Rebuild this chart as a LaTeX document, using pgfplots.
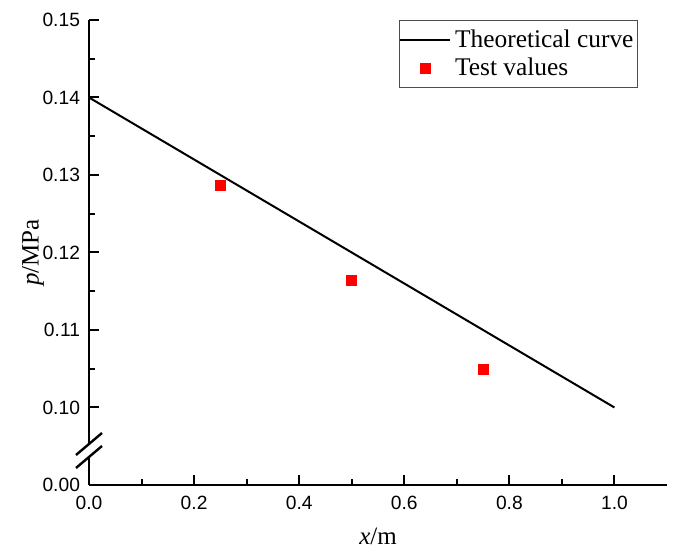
\documentclass[border=0pt]{standalone}
\usepackage{fontspec}
\setmainfont{Liberation Sans}
\newfontfamily\timesfont{Liberation Serif}
\usepackage{pgfplots}
\pgfplotsset{compat=1.18}
\usetikzlibrary{calc}
\pgfplotsset{
  linelegend/.style={legend image code/.code={\draw[##1] (0pt,0pt) -- (25pt,0pt);}},
  marklegend/.style={legend image code/.code={\draw[##1] plot coordinates {(12.5pt,0pt)};}},
}
\begin{document}
\begin{tikzpicture}
\path[use as bounding box] (-44.5pt,-32.5pt) rectangle (293pt,242.5pt);
\begin{axis}[
  at={(0,0)}, anchor=south west,
  scale only axis, width=289pt, height=232.5pt,
  xmin=0, xmax=1.1, ymin=0.09, ymax=0.15,
  axis lines*=left,
  axis line style={line width=1pt},
  tick align=inside,
  major tick length=5pt, minor tick length=3pt,
  every tick/.style={black, line width=1pt},
  xtick={0,0.2,0.4,0.6,0.8,1.0},
  xticklabels={0.0,0.2,0.4,0.6,0.8,1.0},
  minor xtick={0.1,0.3,0.5,0.7,0.9},
  ytick={0.09,0.10,0.11,0.12,0.13,0.14,0.15},
  yticklabels={0.00,0.10,0.11,0.12,0.13,0.14,0.15},
  minor ytick={0.105,0.115,0.125,0.135,0.145},
  /pgf/number format/assume math mode=true,
  tick label style={font=\fontsize{9.6}{11}\selectfont},
  xticklabel style={yshift=-2pt},
  yticklabel style={xshift=-1pt},
  xlabel={\timesfont\textit{x}/m},
  ylabel={\timesfont\textit{p}/MPa},
  label style={font=\fontsize{12.5}{15}\selectfont},
  x label style={at={(axis description cs:0.5,-0.110)}, anchor=center},
  y label style={at={(axis description cs:-0.0969,0.5)}, anchor=center},
  legend style={at={(0.95,1)}, anchor=north east, draw=black!70, line width=0.6pt,
    font=\timesfont\fontsize{12.7}{15.5}\selectfont, inner xsep=0pt, inner ysep=2.5pt,
    row sep=0pt},
  legend cell align=left,
  clip=false,
]
\addplot[black, line width=1pt, linelegend]
  coordinates {(0,0.14) (1.0,0.10)};
\addlegendentry{Theoretical curve}
\addplot[only marks, mark=square*, mark size=2.5pt, color=red, fill=red, marklegend]
  coordinates {(0.25,0.1287) (0.5,0.1164) (0.75,0.1049)};
\addlegendentry{Test values}
\coordinate (O) at (axis cs:0,0.09);
\end{axis}
\fill[white] ($(O)+(-1.5pt,14pt)$) rectangle ($(O)+(1.5pt,20.5pt)$);
\draw[line width=1.2pt] ($(O)+(-6.5pt,8.5pt)$) -- ($(O)+(6.5pt,19.5pt)$);
\draw[line width=1.2pt] ($(O)+(-6.5pt,15pt)$) -- ($(O)+(6.5pt,26pt)$);
\end{tikzpicture}
\end{document}
